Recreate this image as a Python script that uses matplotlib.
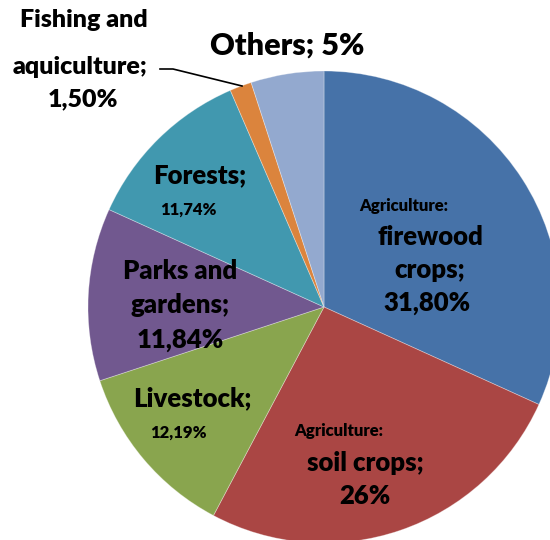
import matplotlib
matplotlib.use("Agg")
import matplotlib.pyplot as plt

# Land-use shares (percent)
categories = ["Agriculture: firewood crops", "Agriculture: soil crops", "Livestock",
              "Parks and gardens", "Forests", "Fishing and aquiculture", "Others"]
values = [31.80, 26.0, 12.19, 11.84, 11.74, 1.50, 5.0]
value_labels = ["31,80%", "26%", "12,19%", "11,84%", "11,74%", "1,50%", "5%"]
colors = ["#4672A8", "#AA4644", "#89A54E", "#71588F", "#4198AF", "#DB843D", "#93A9CF"]

FONT = "Lato"
WEIGHT = "heavy"
W, H = 550, 540

fig = plt.figure(figsize=(W / 100, H / 100), dpi=100)
ax = fig.add_axes([0, 0, 1, 1])
ax.set_xlim(0, W)
ax.set_ylim(0, H)
ax.axis("off")

cx, cy, r = 324, H - 307, 236
ax.pie(values, colors=colors, startangle=90, counterclock=False,
       center=(cx, cy), radius=r, normalize=True,
       wedgeprops=dict(edgecolor=(1, 1, 1, 0.35), linewidth=0.6))
ax.set_xlim(0, W)
ax.set_ylim(0, H)
ax.set_aspect("equal")


def txt(x, y, s, size):
    ax.text(x, H - y, s, ha="center", va="center", fontsize=size,
            fontweight=WEIGHT, family=FONT, color="black")


BIG, SMALL = 18.5, 12

# firewood crops
txt(404, 206, "Agriculture:", SMALL)
txt(430, 237, "firewood", BIG)
txt(430, 270, "crops;", BIG)
txt(427, 303, value_labels[0], BIG)

# soil crops
txt(339, 431, "Agriculture:", SMALL)
txt(365, 463, "soil crops;", BIG)
txt(365, 496, value_labels[1], BIG)

# livestock
txt(192, 398, "Livestock;", BIG)
txt(178, 433, value_labels[2], SMALL)

# parks and gardens
txt(180, 271, "Parks and", BIG)
txt(180, 305, "gardens;", BIG)
txt(180, 340, value_labels[3], BIG)

# forests
txt(200, 175, "Forests;", BIG)
txt(188, 210, value_labels[4], SMALL)

# fishing and aquiculture, with leader line
txt(84, 20, "Fishing and", 18)
txt(80, 67, "aquiculture;", 18)
txt(83, 99, value_labels[5], 18)
ax.plot([160, 173, 242], [H - 69, H - 69, H - 86], color="black", lw=1.2)

# others
txt(287, 46, "Others; " + value_labels[6], 22)

fig.savefig("out.png", dpi=100)
